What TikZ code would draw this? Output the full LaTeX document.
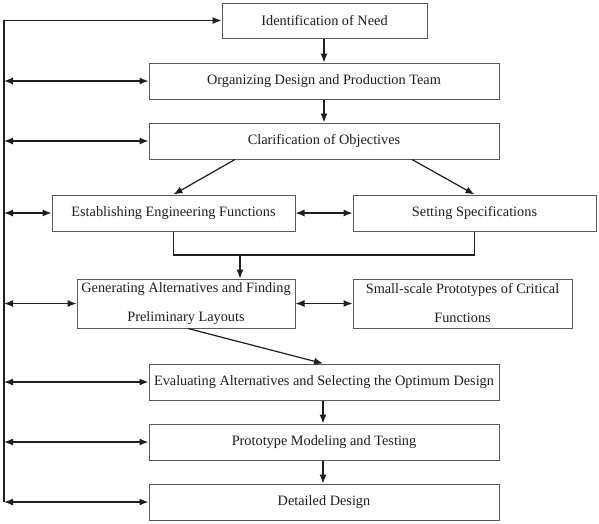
\documentclass[tikz,border=0pt]{standalone}
\usepackage{fontspec}
\setmainfont{Liberation Serif}
\usetikzlibrary{arrows.meta}
\definecolor{boxgray}{HTML}{5A5A5A}
\definecolor{ink}{HTML}{1E1E1E}
\begin{document}
\begin{tikzpicture}[x=1pt,y=-1pt,
  stepbox/.style={draw=boxgray,line width=1pt,rectangle,inner sep=0pt,
    minimum height=36pt,text=ink,align=center,
    font=\fontsize{14.3}{29}\selectfont},
  conn/.style={draw=ink,line width=1.2pt},
  arr/.style={conn,-{Latex[length=9pt,width=7pt]}},
  darr/.style={conn,{Latex[length=9pt,width=7pt]}-{Latex[length=9pt,width=7pt]}}]
\useasboundingbox (0,0) rectangle (599,523);
\fill[white] (0,0) rectangle (599,523);

\node[stepbox,minimum width=205pt,minimum height=35pt] (n1) at (324.5,20.5) {Identification of Need};
\node[stepbox,minimum width=350pt] (n2) at (324,81) {Organizing Design and Production Team};
\node[stepbox,minimum width=350pt] (n3) at (324,141) {Clarification of Objectives};
\node[stepbox,minimum width=243pt] (n4) at (173.5,213) {Establishing Engineering Functions};
\node[stepbox,minimum width=243pt] (n5) at (474.5,213) {Setting Specifications};
\node[stepbox,minimum width=218pt,minimum height=49pt] (n6) at (186,303.5) {Generating Alternatives and Finding\\Preliminary Layouts};
\node[stepbox,minimum width=219pt,minimum height=49pt] (n7) at (462.5,303.5) {Small-scale Prototypes of Critical\\Functions};
\node[stepbox,minimum width=350pt] (n8) at (324,382) {Evaluating Alternatives and Selecting the Optimum Design};
\node[stepbox,minimum width=350pt] (n9) at (324,442) {Prototype Modeling and Testing};
\node[stepbox,minimum width=350pt] (n10) at (324,502) {Detailed Design};

% left feedback bus
\coordinate (b1) at (4,20.5);
\coordinate (b2) at (4,81);
\coordinate (b3) at (4,141);
\coordinate (b4) at (4,213);
\coordinate (b6) at (4,303.5);
\coordinate (b8) at (4,382);
\coordinate (b9) at (4,442);
\coordinate (b10) at (4,502);
\draw[arr] (b10) -- (b1) -- (n1.west);
\draw[darr] (b2) -- (n2.west);
\draw[darr] (b3) -- (n3.west);
\draw[darr] (b4) -- (n4.west);
\draw[darr] (b6) -- (n6.west);
\draw[darr] (b8) -- (n8.west);
\draw[darr] (b9) -- (n9.west);
\draw[darr] (b10) -- (n10.west);

% main flow
\draw[arr] ([xshift=-0.5pt]n1.south) -- (n2.north);
\draw[arr] (n2.south) -- (n3.north);
\draw[arr] ([xshift=-89pt]n3.south) -- (n4.north);
\draw[arr] ([xshift=88pt]n3.south) -- (n5.north);
\draw[darr] (n4.east) -- (n5.west);
\coordinate (j) at (240,255);
\draw[conn] (n4.south) -- (n4.south |- j) -- (n5.south |- j) -- (n5.south);
\draw[arr] (j) -- (j |- n6.north);
\draw[darr] (n6.east) -- (n7.west);
\draw[arr] ([xshift=2pt]n6.south) -- ([xshift=-1pt]n8.north);
\draw[arr] ([xshift=-1pt]n8.south) -- ([xshift=-1pt]n9.north);
\draw[arr] ([xshift=-1pt]n9.south) -- ([xshift=-1pt]n10.north);
\end{tikzpicture}
\end{document}
